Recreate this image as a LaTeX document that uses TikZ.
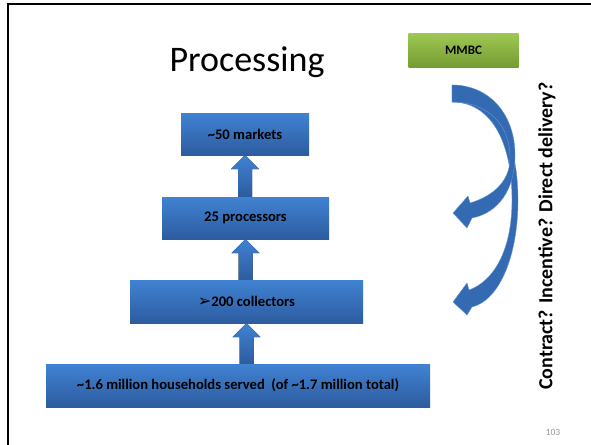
\documentclass[tikz,border=0pt]{standalone}
\usepackage{fontspec}
\setmainfont{Carlito}
\newfontfamily\dingfont{DejaVu Sans}
\usetikzlibrary{calc}

\definecolor{boxtop}{RGB}{64,130,210}
\definecolor{boxbot}{RGB}{45,92,160}
\definecolor{arrowblue}{RGB}{52,106,178}
\definecolor{arrowedge}{RGB}{100,150,215}
\definecolor{greentop}{RGB}{158,198,82}
\definecolor{greenbot}{RGB}{116,156,50}
\definecolor{pagegray}{RGB}{150,150,150}

% vertical block arrow from the top of #1 up to the bottom of #2
\newcommand{\upconnector}[2]{%
  \fill[blockarrow] let \p1=(#2.south), \p2=(#1.north) in
    (\x1-7pt,\y2) -- (\x1-7pt,\y1-14pt) -- (\x1-14pt,\y1-14pt) -- (\x1,\y1)
    -- (\x1+14pt,\y1-14pt) -- (\x1+7pt,\y1-14pt) -- (\x1+7pt,\y2) -- cycle;}

\begin{document}
\begin{tikzpicture}[x=1pt,y=-1pt,
  blockbox/.style={rectangle, inner sep=0pt, top color=boxtop, bottom color=boxbot,
    text=black, font=\bfseries\fontsize{14.6}{17}\selectfont},
  greenbox/.style={rectangle, inner sep=0pt, top color=greentop, bottom color=greenbot,
    text=black, font=\bfseries\fontsize{13}{15}\selectfont},
  blockarrow/.style={top color=boxtop, bottom color=boxbot},
  curvearrow/.style={fill=arrowblue, draw=arrowedge, line width=0.4pt}]

\useasboundingbox (0,0) rectangle (591,444);
\fill[white] (0,0) rectangle (591,444);

% slide frame
\draw[line width=2pt, line cap=rect] (8,444) -- (8,4.5) -- (591,4.5);

% title
\node[anchor=base, font=\fontsize{36}{42}\selectfont] (title) at (247,71) {Processing};

% chain of boxes
\node[blockbox, minimum width=128pt, minimum height=42pt] (markets) at (245,134) {\textasciitilde 50 markets};
\node[blockbox, minimum width=167pt, minimum height=42pt] (processors) at (245.5,218) {25 processors};
\node[blockbox, minimum width=233pt, minimum height=43pt] (collectors) at (246.5,301.5) {{\dingfont\fontsize{16}{17}\selectfont ➢}200 collectors};
\node[blockbox, minimum width=384pt, minimum height=43pt] (households) at (238,385.5) {\textasciitilde 1.6 million households served\ \ (of \textasciitilde 1.7 million total)};

\upconnector{processors}{markets}
\upconnector{collectors}{processors}
\upconnector{households}{collectors}

% MMBC box
\node[greenbox, minimum width=110pt, minimum height=33pt] (mmbc) at (463.5,50.5) {MMBC};

% curved arrows (long one first, short one on top)
\path[curvearrow] (452,85) .. controls (495,85) and (518,140) .. (518,200)
  .. controls (518,255) and (500,300) .. (472,307) -- (467,315) -- (453,302)
  -- (467,283) -- (469,290) .. controls (494,281) and (512,250) .. (512,200)
  .. controls (512,140) and (490,102) .. (452,102) -- cycle;
\path[curvearrow] (452,85) .. controls (490,85) and (515,115) .. (515,155)
  .. controls (515,190) and (498,213) .. (472,218) -- (467,228) -- (453,213)
  -- (468,196) -- (470,203) .. controls (493,196) and (509,182) .. (510,160)
  .. controls (511,125) and (488,102) .. (452,102) -- cycle;

% side question
\node[rotate=90, font=\bfseries\fontsize{20}{24}\selectfont] (question) at (547,236) {Contract? Incentive? Direct delivery?};

% page number
\node[text=pagegray, font=\fontsize{9.5}{11}\selectfont] (pagenum) at (553,432) {103};
\end{tikzpicture}
\end{document}
